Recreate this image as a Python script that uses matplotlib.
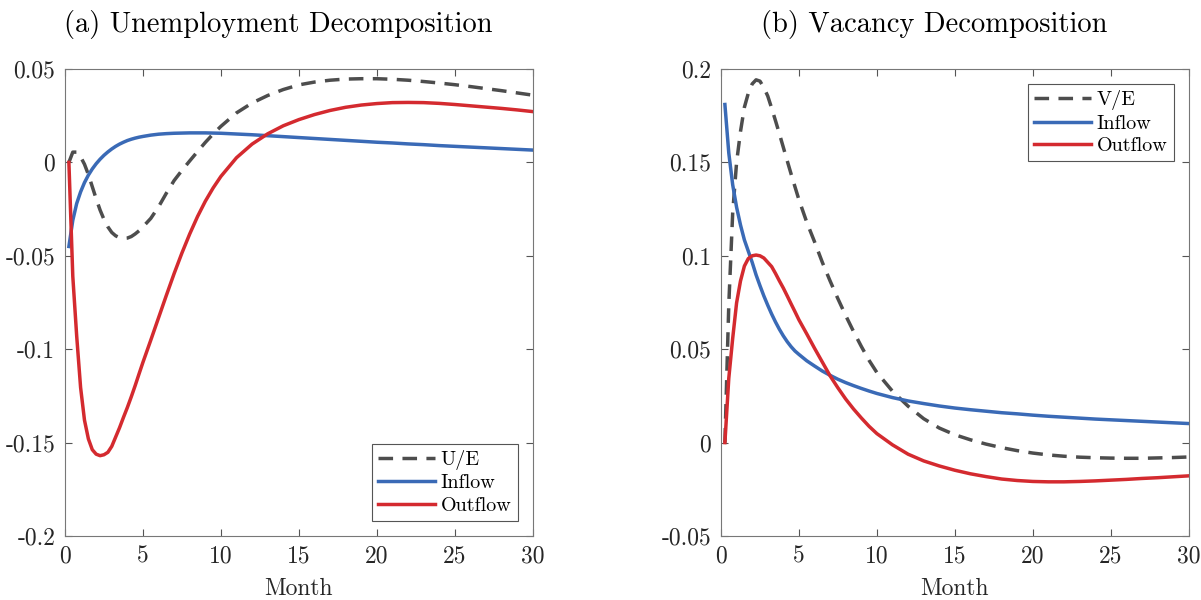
import numpy as np
import matplotlib
matplotlib.use('Agg')
import matplotlib.pyplot as plt

plt.rcParams['font.family'] = ['cmr10', 'DejaVu Serif']
plt.rcParams['axes.unicode_minus'] = False
plt.rcParams['mathtext.fontset'] = 'cm'

# %% Data (months after shock)
months = [0.25, 0.5, 0.75, 1, 1.25, 1.5, 1.75, 2, 2.25, 2.5, 2.75, 3, 3.25, 3.5, 3.75, 4,
          4.25, 4.5, 4.75, 5, 5.5, 6, 6.5, 7, 7.5, 8, 8.5, 9, 9.5, 10,
          11, 12, 13, 14, 15, 16, 17, 18, 19, 20, 21, 22, 23, 24, 25, 26, 27, 28, 29, 30]

# (a) unemployment decomposition
u_total = [0.0, 0.0055, 0.0055, 0.003, -0.001, -0.0065, -0.013, -0.0195, -0.0255, -0.0305,
           -0.0345, -0.0375, -0.0393, -0.0403, -0.0407, -0.0405, -0.0397, -0.0383, -0.0366,
           -0.0345, -0.030, -0.0238, -0.0165, -0.0097, -0.0043, 0.0008, 0.0058, 0.0107,
           0.0152, 0.0193,
           0.0265, 0.0318, 0.0358, 0.039, 0.0415, 0.043, 0.044, 0.0446, 0.0448, 0.0448,
           0.0445, 0.044, 0.0433, 0.0425, 0.0416, 0.0406, 0.0395, 0.0384, 0.0372, 0.036]
u_inflow = [-0.045, -0.031, -0.022, -0.0158, -0.0108, -0.0068, -0.0035, -0.0007, 0.0017,
            0.0038, 0.0056, 0.0072, 0.0086, 0.0098, 0.0108, 0.0117, 0.0124, 0.013, 0.0135,
            0.0139, 0.0146, 0.0151, 0.0154, 0.0156, 0.0157, 0.0158, 0.0158, 0.0158, 0.0157,
            0.0156,
            0.0152, 0.0148, 0.0143, 0.0138, 0.0133, 0.0128, 0.0123, 0.0118, 0.0113, 0.0108,
            0.0104, 0.0099, 0.0095, 0.009, 0.0086, 0.0082, 0.0078, 0.0074, 0.007, 0.0066]
u_outflow = [0.0, -0.061, -0.093, -0.1205, -0.138, -0.148, -0.1538, -0.1562, -0.157, -0.1565,
             -0.1552, -0.152, -0.147, -0.142, -0.1365, -0.1312, -0.1255, -0.1195, -0.1132,
             -0.107, -0.0952, -0.0832, -0.0712, -0.0595, -0.0485, -0.0383, -0.029, -0.0208,
             -0.0137, -0.0075,
             0.0025, 0.0098, 0.0153, 0.0196, 0.0229, 0.0256, 0.0278, 0.0295, 0.0307, 0.0315,
             0.032, 0.0321, 0.032, 0.0316, 0.031, 0.0303, 0.0296, 0.0289, 0.0281, 0.0272]

# (b) vacancy decomposition
v_total = [0.0, 0.074, 0.123, 0.150, 0.1665, 0.1795, 0.187, 0.192, 0.1942, 0.1935, 0.190,
           0.1855, 0.179, 0.1722, 0.1652, 0.158, 0.1508, 0.1437, 0.1368, 0.130, 0.118,
           0.1075, 0.0965, 0.0865, 0.077, 0.068, 0.0595, 0.0515, 0.044, 0.0375,
           0.0275, 0.0195, 0.0128, 0.0078, 0.0042, 0.0015, -0.0008, -0.0027, -0.0043, -0.0056,
           -0.0066, -0.0073, -0.0078, -0.0081, -0.0083, -0.0084, -0.0084, -0.0082, -0.008,
           -0.0077]
v_inflow = [0.181, 0.155, 0.138, 0.126, 0.1165, 0.1085, 0.1025, 0.0965, 0.0898, 0.084, 0.0785,
            0.0735, 0.0688, 0.0645, 0.0606, 0.0571, 0.054, 0.0513, 0.049, 0.0472, 0.0438,
            0.041, 0.0383, 0.036, 0.0339, 0.0321, 0.0305, 0.029, 0.0276, 0.0263,
            0.0241, 0.0223, 0.0209, 0.0196, 0.0185, 0.0176, 0.0168, 0.016, 0.0154, 0.0147,
            0.0141, 0.0136, 0.0131, 0.0126, 0.0122, 0.0118, 0.0114, 0.011, 0.0106, 0.0102]
v_outflow = [0.0, 0.0345, 0.0558, 0.0748, 0.0865, 0.0945, 0.0985, 0.1, 0.1004, 0.1, 0.0988,
             0.0965, 0.0942, 0.0905, 0.0865, 0.0827, 0.0785, 0.0742, 0.07, 0.0657, 0.0582,
             0.0505, 0.0431, 0.0357, 0.0293, 0.0233, 0.018, 0.0132, 0.0087, 0.0048,
             -0.0012, -0.0062, -0.0098, -0.0125, -0.0148, -0.0167, -0.0182, -0.0195, -0.0203,
             -0.0208, -0.021, -0.021, -0.0208, -0.0205, -0.0201, -0.0197, -0.0192, -0.0188,
             -0.0183, -0.0178]

x_ticks = [0, 5, 10, 15, 20, 25, 30]
u_yticks = [-0.2, -0.15, -0.1, -0.05, 0, 0.05]
u_ylabels = ['-0.2', '-0.15', '-0.1', '-0.05', '0', '0.05']
v_yticks = [-0.05, 0, 0.05, 0.1, 0.15, 0.2]
v_ylabels = ['-0.05', '0', '0.05', '0.1', '0.15', '0.2']

c_total = '#4d4d4d'
c_in = '#3a6ab6'
c_out = '#d42a2f'

# %% Plot
fig = plt.figure(figsize=(12.01, 6.0), dpi=100)
ax1 = fig.add_axes([65 / 1201, 64 / 600, 467.7 / 1201, 467 / 600])
ax2 = fig.add_axes([721 / 1201, 64 / 600, 467.7 / 1201, 467 / 600])


def draw_panel(ax, total, inflow, outflow, total_label, yticks, ylabels, loc):
    ax.plot(months, total, color=c_total, lw=2.5, dashes=(4.2, 2.7), label=total_label)
    ax.plot(months, inflow, color=c_in, lw=2.5, label='Inflow')
    ax.plot(months, outflow, color=c_out, lw=2.5, label='Outflow')
    ax.set_xlim(0, 30)
    ax.set_ylim(yticks[0], yticks[-1])
    ax.set_xticks(x_ticks)
    ax.set_xticklabels([str(t) for t in x_ticks])
    ax.set_yticks(yticks)
    ax.set_yticklabels(ylabels)
    ax.tick_params(direction='in', length=5, width=0.8, colors='#555555', labelcolor='#262626',
                   labelsize=17, top=True, right=True, pad=7)
    for s in ax.spines.values():
        s.set_color('#777777')
        s.set_linewidth(0.8)
    ax.set_xlabel('Month', fontsize=17, color='#262626', labelpad=7)
    leg = ax.legend(loc=loc, fontsize=14.5, handlelength=2.8, handletextpad=0.3,
                    labelspacing=0.22, borderpad=0.3, borderaxespad=0.75, fancybox=False,
                    framealpha=1, edgecolor='#555555')
    leg.get_frame().set_linewidth(0.8)


draw_panel(ax1, u_total, u_inflow, u_outflow, 'U/E', u_yticks, u_ylabels, 'lower right')
draw_panel(ax2, v_total, v_inflow, v_outflow, 'V/E', v_yticks, v_ylabels, 'upper right')

fig.text(278 / 1201, 1 - 32 / 600, '(a) Unemployment Decomposition', fontsize=20.5,
         ha='center', va='baseline')
fig.text(934 / 1201, 1 - 32 / 600, '(b) Vacancy Decomposition', fontsize=20.5,
         ha='center', va='baseline')

plt.savefig('out.png', dpi=100)
